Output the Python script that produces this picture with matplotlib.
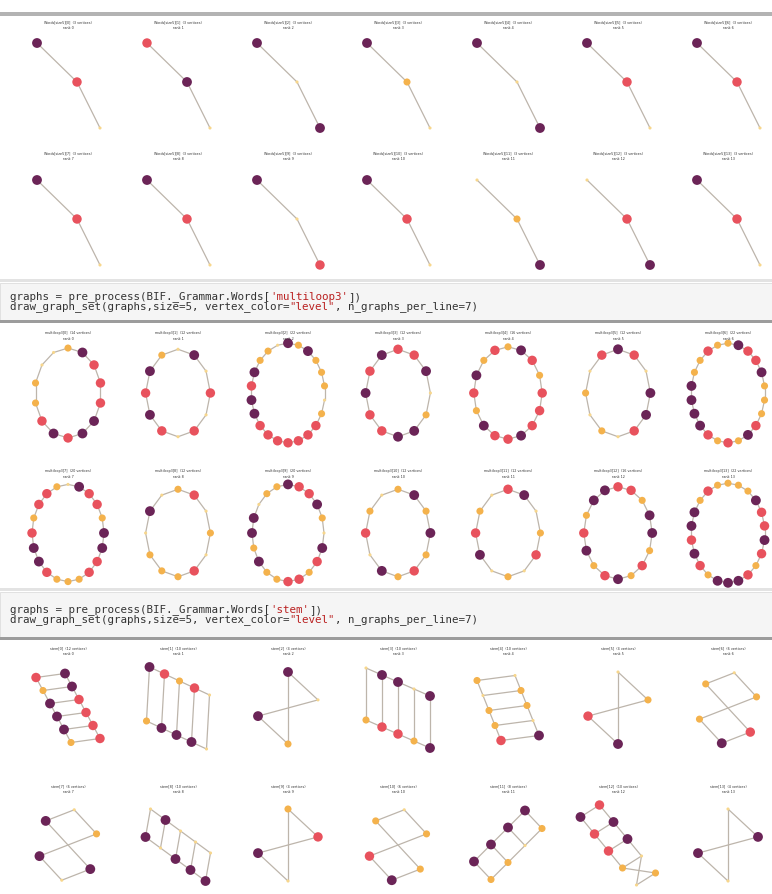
import numpy as np
import matplotlib.pyplot as plt
from matplotlib.patches import Rectangle

W, H = 772, 894
COL_X = [68 + 110 * i for i in range(7)]

LEVEL_COLORS = ['#6b2457', '#e8525d', '#f4b24c', '#f7d68c']
LEVEL_SIZES = [50, 46, 26, 5]
EDGE_COLOR = '#bdb5ab'
CODE_RED = '#ba2121'

# first block (end of the previous cell): paths of 3 vertices, level of each vertex
PATH_LEVELS_1 = [[0, 1, 3], [1, 0, 3], [0, 3, 0], [0, 2, 3], [0, 3, 0], [0, 1, 3], [0, 1, 3]]
PATH_LEVELS_2 = [[0, 1, 3], [0, 1, 3], [0, 3, 1], [0, 1, 3], [3, 2, 0], [3, 1, 0], [0, 1, 3]]

# multiloop3: levels around each loop, clockwise from the top
MULTILOOP_1 = [
    [2, 0, 1, 1, 1, 0, 0, 1, 0, 1, 2, 2, 3, 3],
    [3, 0, 3, 1, 3, 1, 3, 1, 0, 1, 0, 2],
    [0, 2, 0, 2, 2, 2, 3, 2, 1, 1, 1, 1, 1, 1, 1, 0, 0, 1, 0, 2, 2, 3],
    [1, 1, 0, 3, 2, 0, 0, 1, 1, 0, 1, 0],
    [2, 0, 1, 2, 1, 1, 1, 0, 1, 1, 0, 2, 1, 0, 2, 1],
    [0, 1, 3, 0, 0, 1, 3, 2, 3, 2, 3, 1],
    [2, 0, 1, 1, 0, 2, 2, 2, 1, 0, 2, 1, 2, 1, 0, 0, 0, 0, 2, 2, 1, 2],
]
MULTILOOP_2 = [
    [3, 0, 1, 1, 2, 0, 0, 1, 1, 2, 2, 2, 1, 0, 0, 1, 2, 1, 1, 2],
    [2, 1, 3, 2, 3, 1, 2, 2, 2, 3, 0, 3],
    [0, 1, 1, 0, 2, 3, 0, 1, 2, 1, 1, 2, 2, 0, 2, 0, 0, 3, 2, 2],
    [2, 0, 2, 0, 2, 1, 2, 0, 3, 1, 2, 3],
    [1, 0, 3, 2, 1, 3, 2, 3, 0, 1, 2, 3],
    [1, 1, 2, 0, 0, 2, 1, 2, 0, 1, 2, 0, 1, 2, 0, 0],
    [2, 2, 2, 0, 1, 1, 0, 1, 2, 1, 0, 0, 0, 2, 1, 0, 1, 0, 0, 2, 1, 2],
]

# stem: ladders (two rails) and crossed cycles (bowtie = 4-cycle, hexcross = 6-cycle)
STEM_KIND_1 = ['ladder', 'ladder', 'bowtie', 'ladder', 'ladder', 'bowtie', 'hexcross']
STEM_LEVELS_1 = [
    ([1, 2, 0, 0, 0, 2], [0, 0, 1, 1, 1, 1]),
    ([0, 1, 2, 1, 3], [2, 0, 0, 0, 3]),
    [0, 3, 0, 2],
    ([3, 0, 0, 3, 0], [2, 1, 1, 2, 0]),
    ([2, 3, 2, 2, 1], [3, 2, 2, 3, 0]),
    [3, 2, 1, 0],
    [2, 3, 2, 2, 0, 1],
]
STEM_KIND_2 = ['hexcross', 'ladder', 'bowtie', 'hexcross', 'ladder', 'ladder', 'bowtie']
STEM_LEVELS_2 = [
    [0, 3, 2, 0, 3, 0],
    ([3, 0, 3, 3, 3], [0, 3, 0, 0, 0]),
    [2, 1, 0, 3],
    [2, 3, 2, 1, 0, 2],
    ([0, 0, 0, 0], [2, 3, 2, 2]),
    ([0, 1, 1, 2, 2], [1, 0, 0, 3, 3]),
    [3, 0, 0, 3],
]

# drawing options for each stem graph (orientation only)
STEM_STYLE_1 = [
    dict(step=(7, 13), rung=(29, -4)),
    dict(step=(15, 7), rung=(-3, 54)),
    dict(skew=-0.27),
    dict(step=(16, 7), rung=(0, 52)),
    dict(step=(6, 15), rung=(38, -5)),
    dict(skew=-0.27),
    dict(rot=-12),
]
STEM_STYLE_2 = [
    dict(rot=-12),
    dict(step=(15, 11), rung=(-5, 28)),
    dict(skew=-0.27),
    dict(rot=-12),
    dict(step=(-17, 17), rung=(17, 18)),
    dict(step=(14, 17), rung=(19, -12), twist=True),
    dict(skew=-0.27),
]


def path_layout():
    pos = np.array([[-31, -42], [9, -3], [32, 43]], dtype=float)
    return pos, [(0, 1), (1, 2)]


def ring_layout(n):
    rx = 27 + 0.45 * n
    ry = 1.35 * rx
    t = np.pi / 2 - 2 * np.pi * np.arange(n) / n
    pos = np.column_stack([rx * np.cos(t), -ry * np.sin(t)])
    return pos, [(i, (i + 1) % n) for i in range(n)]


def crossed_layout(slots, rot=0, skew=0.0, rx=30, ry=36):
    n = len(slots)
    t = np.deg2rad(90 - 360 * np.asarray(slots) / n + rot)
    x, y = rx * np.cos(t), -ry * np.sin(t)
    pos = np.column_stack([x, y + skew * x])
    return pos, [(i, (i + 1) % n) for i in range(n)]


def ladder_layout(n, step, rung, twist=False):
    step, rung = np.asarray(step, float), np.asarray(rung, float)
    k = np.arange(n) - (n - 1) / 2
    a = k[:, None] * step - 0.5 * rung
    b = k[:, None] * step + 0.5 * rung
    if twist:
        a[-1], b[-1] = b[-1].copy(), a[-1].copy()
    pos = np.vstack([a, b])
    edges = [(i, i + 1) for i in range(n - 1)] + [(n + i, n + i + 1) for i in range(n - 1)]
    edges += [(i, n + i) for i in range(n)]
    return pos, edges


def stem_graph(kind, levels, style):
    if kind == 'ladder':
        la, lb = levels
        pos, edges = ladder_layout(len(la), **style)
        return pos, edges, list(la) + list(lb)
    slots = [0, 1, 3, 2] if kind == 'bowtie' else [5, 0, 1, 4, 3, 2]
    pos, edges = crossed_layout(slots, **style)
    return pos, edges, levels


def cell_axes(fig, col, title_y, cy, below=55):
    cx = COL_X[col]
    top, bottom = title_y - 8, cy + below
    ax = fig.add_axes([(cx - 55) / W, 1 - bottom / H, 110 / W, (bottom - top) / H])
    ax.set_xlim(-55, 55)
    ax.set_ylim(bottom - cy, top - cy)
    ax.axis('off')
    return ax


def draw_graph(ax, pos, edges, levels, title, sub, title_off):
    for i, j in edges:
        ax.plot([pos[i, 0], pos[j, 0]], [pos[i, 1], pos[j, 1]],
                color=EDGE_COLOR, lw=0.9, zorder=1, solid_capstyle='round')
    lv = list(levels)
    ax.scatter(pos[:, 0], pos[:, 1], s=[LEVEL_SIZES[l] for l in lv],
               c=[LEVEL_COLORS[l] for l in lv], linewidths=0, zorder=2)
    ax.text(0, title_off, title, ha='center', va='center', fontsize=2.4, color='#333333')
    ax.text(0, title_off + 6, sub, ha='center', va='center', fontsize=2.4, color='#333333')


def code_cell(bg, y_top, y_bot, word):
    bg.add_patch(Rectangle((0, y_top - 4), W, 3, color='#e3e3e3', lw=0))
    bg.add_patch(Rectangle((0, y_top), W, y_bot - y_top, facecolor='#f5f5f5',
                           edgecolor='#dddddd', lw=0.6))
    bg.add_patch(Rectangle((0, y_bot), W, 3, color='#9c9c9c', lw=0))
    mid = (y_top + y_bot) / 2
    lines = [
        [("graphs = pre_process(BIF._Grammar.Words[", '#333333'), (f"'{word}'", CODE_RED), ("])", '#333333')],
        [("draw_graph_set(graphs,size=5, vertex_color=", '#333333'), ('"level"', CODE_RED),
         (", n_graphs_per_line=7)", '#333333')],
    ]
    for k, parts in enumerate(lines):
        y = mid - 5 + 10 * k
        prev = bg.text(10, y, parts[0][0], family='DejaVu Sans Mono', fontsize=7.8,
                       color=parts[0][1], va='center')
        for txt, col in parts[1:]:
            prev = bg.annotate(txt, xy=(1, 0), xycoords=prev, va='bottom',
                               family='DejaVu Sans Mono', fontsize=7.8, color=col)


fig = plt.figure(figsize=(W / 100, H / 100), dpi=100)
bg = fig.add_axes([0, 0, 1, 1])
bg.set_xlim(0, W)
bg.set_ylim(H, 0)
bg.axis('off')

bg.add_patch(Rectangle((0, 12), W, 4, color='#b3b3b3', lw=0))
code_cell(bg, 283, 320, 'multiloop3')
code_cell(bg, 592, 637, 'stem')

# rows: (title y, graph centre y) in figure pixels
for r, (levels_row, ty, cy) in enumerate([(PATH_LEVELS_1, 22, 85), (PATH_LEVELS_2, 153, 222)]):
    for c, lv in enumerate(levels_row):
        ax = cell_axes(fig, c, ty, cy)
        pos, edges = path_layout()
        draw_graph(ax, pos, edges, lv, f"Words[size5][{7 * r + c}]  ({len(lv)} vertices)",
                   f"rank {7 * r + c}", ty - cy)

for r, (rings, ty, cy) in enumerate([(MULTILOOP_1, 333, 393), (MULTILOOP_2, 471, 533)]):
    for c, lv in enumerate(rings):
        ax = cell_axes(fig, c, ty, cy)
        pos, edges = ring_layout(len(lv))
        draw_graph(ax, pos, edges, lv, f"multiloop3[{7 * r + c}]  ({len(lv)} vertices)",
                   f"rank {7 * r + c}", ty - cy)

for r, (kinds, levels_row, styles, ty, cy) in enumerate(
        [(STEM_KIND_1, STEM_LEVELS_1, STEM_STYLE_1, 648, 708),
         (STEM_KIND_2, STEM_LEVELS_2, STEM_STYLE_2, 786, 845)]):
    for c, (kind, lv, st) in enumerate(zip(kinds, levels_row, styles)):
        ax = cell_axes(fig, c, ty, cy, below=48)
        pos, edges, lvs = stem_graph(kind, lv, st)
        draw_graph(ax, pos, edges, lvs, f"stem[{7 * r + c}]  ({len(lvs)} vertices)",
                   f"rank {7 * r + c}", ty - cy)

fig.savefig('out.png', dpi=100)
